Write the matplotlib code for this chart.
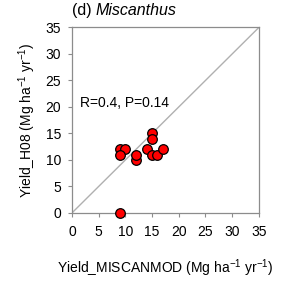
import matplotlib
matplotlib.use("Agg")
import matplotlib.pyplot as plt

plt.rcParams['font.family'] = ['Liberation Sans', 'DejaVu Sans']
plt.rcParams['mathtext.fontset'] = 'custom'
plt.rcParams['mathtext.rm'] = 'Liberation Sans'
plt.rcParams['mathtext.it'] = 'Liberation Sans:italic'
plt.rcParams['mathtext.default'] = 'rm'

x_miscanmod = [9, 10, 9, 12, 12, 14, 15, 15, 15, 16, 17, 9]
y_h08 = [12, 12, 11, 10, 11, 12, 15, 14, 11, 11, 12, 0]
ticks = [0, 5, 10, 15, 20, 25, 30, 35]

fig = plt.figure(figsize=(2.87, 2.92), dpi=100)
ax = fig.add_axes([0.251, 0.271, 0.651, 0.635])
ax.plot([0, 35], [0, 35], color='#b0b0b0', lw=1, zorder=1)
ax.scatter(x_miscanmod, y_h08, s=48, facecolor='#ff0000', edgecolor='black', linewidth=0.9, zorder=3, clip_on=False)
ax.set_xlim(0, 35)
ax.set_ylim(0, 35)
ax.set_xticks(ticks)
ax.set_yticks(ticks)
for s in ax.spines.values():
    s.set_color('#8c8c8c')
    s.set_linewidth(0.9)
ax.tick_params(direction='out', length=3, color='#8c8c8c', labelsize=10)
ax.tick_params(axis='x', pad=6)
ax.tick_params(axis='y', pad=5)
ax.set_xlabel('Yield_MISCANMOD (Mg ha$^{-1}$ yr$^{-1}$)', fontsize=10, labelpad=13)
ax.set_ylabel('Yield_H08 (Mg ha$^{-1}$ yr$^{-1}$)', fontsize=10, labelpad=5)
ax.text(0.0, 1.05, '(d) ', transform=ax.transAxes, fontsize=11.5, ha='left', va='bottom')
ax.text(0.123, 1.05, 'Miscanthus', transform=ax.transAxes, fontsize=11.5, style='italic', ha='left', va='bottom')
ax.text(1.5, 20.8, 'R=0.4, P=0.14', fontsize=10, ha='left', va='center')
fig.savefig('out.png', dpi=100)
